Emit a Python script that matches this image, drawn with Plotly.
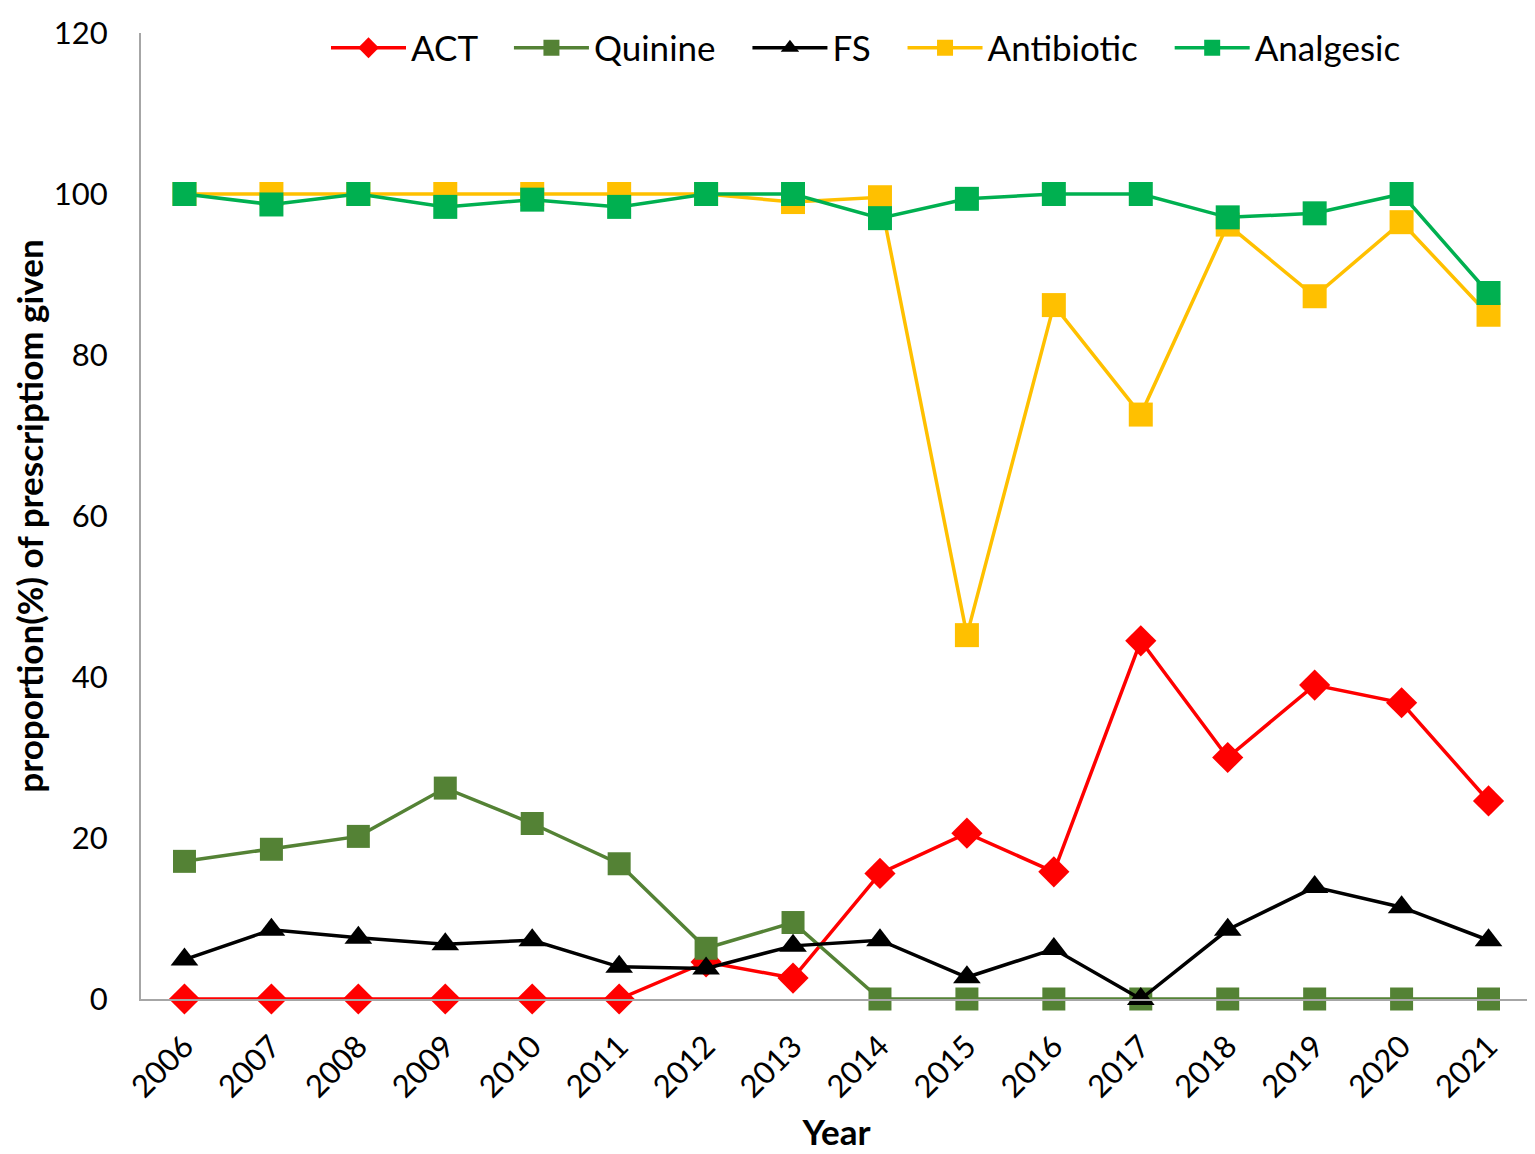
import plotly.graph_objects as go

years = [str(y) for y in range(2006, 2022)]

act = [0, 0, 0, 0, 0, 0, 4.6, 2.6, 15.6, 20.6, 15.8, 44.5, 30.0, 39.0, 36.8, 24.6]
quinine = [17.1, 18.6, 20.2, 26.2, 21.8, 16.8, 6.3, 9.5, 0, 0, 0, 0, 0, 0, 0, 0]
fs = [4.9, 8.6, 7.6, 6.8, 7.3, 4.0, 3.8, 6.6, 7.3, 2.7, 6.2, 0, 8.6, 13.9, 11.4, 7.3]
antibiotic = [100, 100, 100, 100, 100, 100, 100, 99.0, 99.6, 45.2, 86.2, 72.6, 96.2, 87.3, 96.5, 85.0]
analgesic = [100, 98.7, 100, 98.4, 99.3, 98.4, 100, 100, 97.0, 99.4, 100, 100, 97.1, 97.6, 100, 87.7]

series = [
    ("ACT", act, "#FF0000", "diamond", 24),
    ("Quinine", quinine, "#548235", "square", 23),
    ("FS", fs, "#000000", "triangle-up", 24),
    ("Antibiotic", antibiotic, "#FFC000", "square", 24),
    ("Analgesic", analgesic, "#00B050", "square", 24),
]

fig = go.Figure()
for name, vals, color, symbol, size in series:
    fig.add_trace(go.Scatter(
        x=years, y=vals, name=name + "\u00a0\u00a0\u00a0", mode="lines+markers",
        line=dict(color=color, width=3.5),
        marker=dict(symbol=symbol, size=size, color=color),
        cliponaxis=False,
    ))

font = "Lato, 'Open Sans', sans-serif"
fig.update_layout(
    width=1535, height=1154,
    paper_bgcolor="white", plot_bgcolor="white",
    margin=dict(l=133, r=11, t=18, b=163),
    font=dict(family=font, size=31, color="black"),
    legend=dict(orientation="h", x=0.133, y=1.015, xanchor="left", yanchor="top",
                font=dict(size=35), bgcolor="rgba(0,0,0,0)", itemwidth=75,
                tracegroupgap=0),
    xaxis=dict(
        type="category", range=[-0.5, 15.5], showgrid=False, showline=True,
        linecolor="#A6A6A6", linewidth=2, tickangle=-45, ticks="",
        automargin=False, ticklabelstandoff=15,
        title=dict(text="<b>Year</b>", font=dict(size=35), standoff=17),
    ),
    yaxis=dict(
        range=[0, 120], tickvals=[0, 20, 40, 60, 80, 100, 120], showgrid=False,
        showline=True, linecolor="#A6A6A6", linewidth=2, ticks="", zeroline=False,
        automargin=False, ticklabeloverflow="allow", ticklabelstandoff=25,
        title=dict(text="<b>proportion(%) of prescriptiom given</b>", font=dict(size=35), standoff=18),
    ),
)

fig.write_html("out.html")
